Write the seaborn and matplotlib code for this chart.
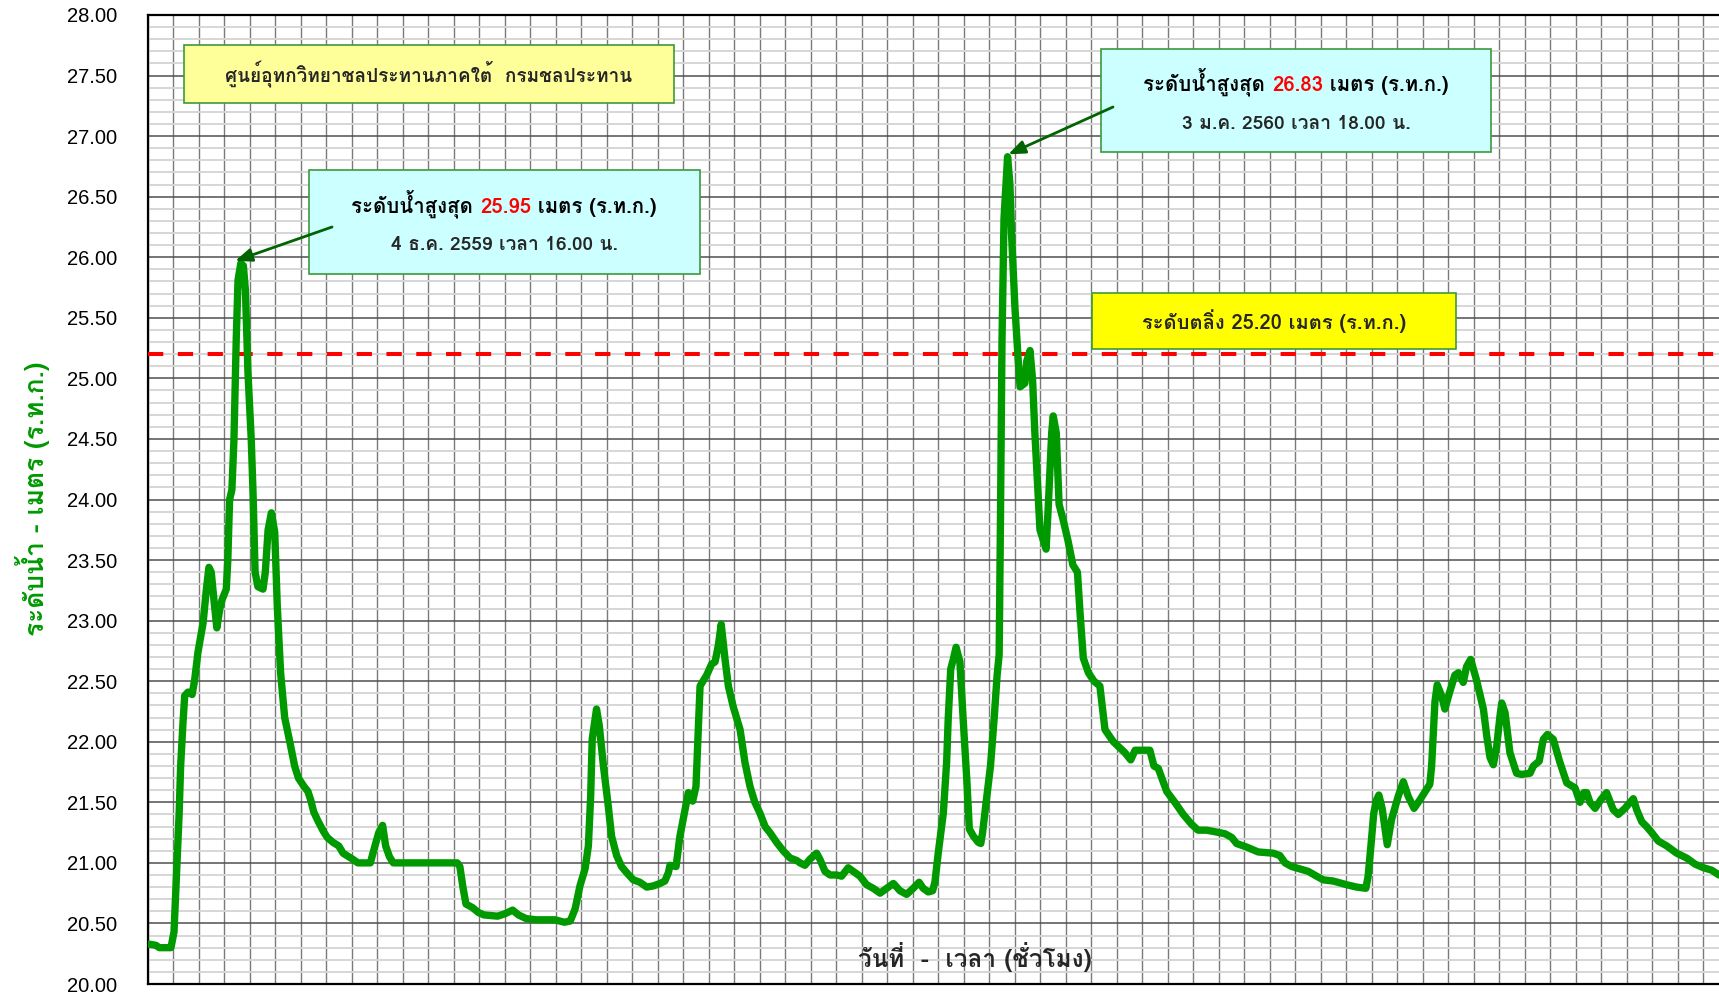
import numpy as np
import pandas as pd
import matplotlib
matplotlib.use("Agg")
import matplotlib.pyplot as plt
from matplotlib import font_manager, ft2font
from matplotlib.ticker import MultipleLocator, FormatStrFormatter, NullFormatter
from matplotlib.offsetbox import TextArea, HPacker, AnnotationBbox
from matplotlib.patches import Rectangle
import seaborn as sns

# days counted from 1 Dec 2559 00:00, water level in metres (MSL)
days = [0.00, 0.30, 0.45, 0.90, 1.02, 1.13, 1.22, 1.28, 1.37, 1.44, 1.57, 1.73, 1.83, 1.96,
        2.16, 2.29, 2.39, 2.48, 2.61, 2.70, 2.81, 2.90, 3.07, 3.13, 3.20, 3.29, 3.37, 3.46,
        3.53, 3.64, 3.74, 3.82, 3.92, 4.05, 4.12, 4.20, 4.31, 4.51, 4.60, 4.71, 4.84, 4.97,
        5.07, 5.20, 5.36, 5.57, 5.75, 5.90, 6.12, 6.27, 6.38, 6.50, 6.68, 6.88, 7.03, 7.25,
        7.48, 7.65, 7.88, 8.03, 8.23, 8.72, 8.90, 9.05, 9.20, 9.32, 9.47, 9.62, 12.13, 12.23,
        12.35, 12.47, 12.73, 12.96, 13.18, 13.71, 14.00, 14.30, 14.53, 14.83, 15.21, 15.96,
        16.33, 16.56, 16.75, 16.94, 17.14, 17.27, 17.36, 17.42, 17.59, 17.70, 17.86, 18.05,
        18.18, 18.38, 18.57, 18.77, 19.03, 19.29, 19.56, 19.82, 20.08, 20.27, 20.41, 20.47,
        20.71, 20.86, 21.06, 21.19, 21.36, 21.49, 21.65, 21.91, 22.10, 22.24, 22.37, 22.48,
        22.63, 22.76, 22.95, 23.22, 23.41, 23.61, 23.80, 24.00, 24.20, 24.39, 24.65, 24.91,
        25.18, 25.44, 25.57, 25.76, 25.96, 26.22, 26.35, 26.55, 26.75, 27.01, 27.20, 27.46,
        27.66, 27.92, 28.18, 28.44, 28.71, 28.97, 29.23, 29.49, 29.75, 30.01, 30.24, 30.40,
        30.60, 30.77, 30.86, 30.99, 31.19, 31.32, 31.38, 31.48, 31.58, 31.69, 31.84, 31.97,
        32.11, 32.21, 32.37, 32.56, 32.66, 32.73, 32.88, 33.04, 33.19, 33.30, 33.38, 33.43,
        33.49, 33.57, 33.71, 33.80, 33.87, 34.00, 34.13, 34.20, 34.39, 34.46, 34.59, 34.69,
        34.78, 34.89, 34.98, 35.22, 35.31, 35.44, 35.50, 35.62, 35.73, 35.88, 36.08, 36.27,
        36.45, 36.55, 36.68, 36.88, 37.10, 37.33, 37.53, 37.86, 38.31, 38.54, 38.71, 39.29,
        39.45, 39.62, 39.95, 40.27, 40.60, 40.92, 41.18, 41.51, 41.78, 42.24, 42.50, 42.69,
        43.09, 43.54, 44.13, 44.39, 44.59, 44.85, 45.18, 45.50, 45.83, 46.09, 46.48, 47.00,
        47.40, 47.76, 47.85, 47.98, 48.07, 48.18, 48.27, 48.40, 48.60, 48.77, 49.03, 49.23,
        49.42, 49.65, 49.88, 50.27, 50.34, 50.47, 50.56, 50.73, 50.86, 51.02, 51.25, 51.39,
        51.58, 51.71, 51.87, 52.10, 52.37, 52.50, 52.63, 52.76, 52.89, 53.02, 53.09, 53.22,
        53.41, 53.67, 53.87, 54.20, 54.33, 54.56, 54.72, 54.88, 55.11, 55.37, 55.64, 55.96,
        56.16, 56.31, 56.42, 56.55, 56.75, 56.97, 57.20, 57.46, 57.66, 57.92, 58.25, 58.38,
        58.58, 58.77, 58.97, 59.23, 59.56, 59.95, 60.34, 60.67, 61.00, 61.32, 61.61]
level = [20.33, 20.32, 20.30, 20.30, 20.43, 20.97, 21.40, 21.80, 22.15, 22.38, 22.41, 22.39,
         22.51, 22.74, 22.98, 23.26, 23.44, 23.40, 23.12, 22.94, 23.09, 23.17, 23.26, 23.50,
         24.00, 24.08, 24.49, 25.32, 25.81, 25.95, 25.93, 25.73, 25.05, 24.49, 24.05, 23.40,
         23.28, 23.26, 23.40, 23.75, 23.89, 23.73, 23.12, 22.57, 22.20, 21.99, 21.80, 21.70,
         21.63, 21.59, 21.52, 21.42, 21.34, 21.26, 21.21, 21.17, 21.14, 21.08, 21.05, 21.03,
         21.00, 21.00, 21.14, 21.25, 21.31, 21.14, 21.05, 21.00, 21.00, 20.97, 20.80, 20.66,
         20.63, 20.59, 20.57, 20.56, 20.58, 20.61, 20.57, 20.54, 20.53, 20.53, 20.51, 20.52,
         20.62, 20.81, 20.95, 21.14, 21.55, 22.02, 22.27, 22.13, 21.80, 21.47, 21.22, 21.06,
         20.97, 20.92, 20.86, 20.84, 20.80, 20.81, 20.83, 20.85, 20.92, 20.98, 20.97, 21.22,
         21.44, 21.58, 21.51, 21.63, 22.46, 22.55, 22.64, 22.66, 22.80, 22.97, 22.68, 22.46,
         22.29, 22.10, 21.83, 21.63, 21.50, 21.41, 21.30, 21.25, 21.17, 21.10, 21.04, 21.02,
         21.00, 20.98, 21.03, 21.08, 21.03, 20.93, 20.90, 20.90, 20.89, 20.96, 20.93, 20.89,
         20.82, 20.79, 20.75, 20.79, 20.83, 20.77, 20.74, 20.79, 20.84, 20.79, 20.76, 20.77,
         20.84, 21.08, 21.41, 21.83, 22.18, 22.60, 22.68, 22.78, 22.66, 22.18, 21.69, 21.28,
         21.22, 21.17, 21.16, 21.25, 21.52, 21.80, 22.21, 22.55, 22.72, 23.81, 25.29, 26.32,
         26.83, 26.61, 26.17, 25.58, 25.14, 24.93, 24.96, 25.14, 25.23, 24.99, 24.55, 24.11,
         23.75, 23.59, 23.96, 24.55, 24.69, 24.55, 23.96, 23.84, 23.66, 23.46, 23.40, 23.07,
         22.69, 22.57, 22.50, 22.46, 22.10, 22.00, 21.91, 21.85, 21.93, 21.93, 21.80, 21.78,
         21.59, 21.50, 21.40, 21.32, 21.27, 21.27, 21.26, 21.24, 21.21, 21.16, 21.13, 21.09,
         21.08, 21.06, 21.00, 20.97, 20.95, 20.93, 20.89, 20.86, 20.85, 20.82, 20.80, 20.79,
         20.89, 21.19, 21.41, 21.52, 21.56, 21.45, 21.15, 21.36, 21.55, 21.67, 21.55, 21.45,
         21.52, 21.65, 21.80, 22.33, 22.47, 22.38, 22.27, 22.39, 22.55, 22.57, 22.49, 22.62,
         22.68, 22.51, 22.27, 22.05, 21.87, 21.81, 21.96, 22.21, 22.32, 22.24, 21.91, 21.74,
         21.73, 21.74, 21.80, 21.84, 22.02, 22.06, 22.02, 21.83, 21.66, 21.62, 21.50, 21.58,
         21.58, 21.50, 21.45, 21.52, 21.58, 21.44, 21.40, 21.45, 21.53, 21.44, 21.34, 21.30,
         21.25, 21.18, 21.14, 21.08, 21.04, 20.99, 20.96, 20.94, 20.90]

bank_level = 25.20

title_text = "ศูนย์อุทกวิทยาชลประทานภาคใต้  กรมชลประทาน"
peak1_lines = [["ระดับน้ำสูงสุด ", "25.95", " เมตร (ร.ท.ก.)"], "4 ธ.ค. 2559 เวลา 16.00 น."]
peak2_lines = [["ระดับน้ำสูงสุด ", "26.83", " เมตร (ร.ท.ก.)"], "3 ม.ค. 2560 เวลา 18.00 น."]
bank_text = "ระดับตลิ่ง 25.20 เมตร (ร.ท.ก.)"
xlabel = "วันที่  -  เวลา (ชั่วโมง)"
ylabel = "ระดับน้ำ - เมตร (ร.ท.ก.)"


def thai_fonts():
    found = []
    for f in font_manager.fontManager.ttflist:
        try:
            cmap = ft2font.FT2Font(f.fname).get_charmap()
        except Exception:
            continue
        if 0x0E14 in cmap and 0x0E49 in cmap and f.name not in found:
            found.append(f.name)
    return found


sns.set_style("white")
found = thai_fonts()
pick = [n for n in ["Loma", "Tahoma", "Noto Sans Thai"] if n in found] or found[:1]
thai = pick[:1] + ["Liberation Sans", "DejaVu Sans"]
plt.rcParams["font.family"] = ["Liberation Sans", "DejaVu Sans"]

W, H = 1719, 992
fig = plt.figure(figsize=(W / 100, H / 100), dpi=100)
ax = fig.add_axes([148 / W, 1 - 984 / H, 1 - 148 / W, (984 - 15) / H])

df = pd.DataFrame({"day": days, "level": level})
sns.lineplot(data=df, x="day", y="level", ax=ax, color="#009900", lw=5.3,
             estimator=None, sort=False, zorder=5)
ax.lines[-1].set_solid_joinstyle("round")
ax.axhline(bank_level, color="#ff0000", lw=2.9, dashes=(3.8, 3.6), zorder=4)

ax.set_xlim(0, 61.61)
ax.set_ylim(20, 28)
ax.yaxis.set_major_locator(MultipleLocator(0.5))
ax.yaxis.set_minor_locator(MultipleLocator(0.1))
ax.yaxis.set_major_formatter(FormatStrFormatter("%.2f"))
ax.xaxis.set_major_locator(MultipleLocator(1))
ax.xaxis.set_major_formatter(NullFormatter())
ax.set_axisbelow(True)
ax.grid(which="minor", axis="y", color="#d6d6d6", lw=1.4)
ax.grid(which="major", axis="y", color="#505050", lw=1.1)
ax.grid(which="major", axis="x", color="#7a7a7a", lw=1.0)
ax.tick_params(axis="y", which="major", direction="inout", length=13.7, width=1.5,
               labelsize=14.5, pad=15.5, colors="black")
ax.tick_params(axis="y", which="minor", direction="in", length=6.5, width=1.5)
ax.tick_params(axis="x", which="major", direction="inout", length=14, width=1.5)
for s in ["left", "top", "bottom"]:
    ax.spines[s].set_color("black")
    ax.spines[s].set_linewidth(1.6)
ax.spines["right"].set_visible(False)
ax.set_xlabel("")
ax.set_ylabel("")


def fx(px):
    return px / W


def fy(py):
    return 1 - py / H


def box(x0, y0, x1, y1, color):
    ax.add_patch(Rectangle((fx(x0), fy(y1)), fx(x1 - x0), (y1 - y0) / H,
                           transform=fig.transFigure, facecolor=color,
                           edgecolor="#3c9a3c", lw=1.2, zorder=6, clip_on=False))


def line_parts(parts, x, y, size):
    areas = [TextArea(t, textprops=dict(color=c, fontsize=size, fontweight="bold", family=thai))
             for t, c in zip(parts, ["black", "#ff0000", "black"])]
    pack = HPacker(children=areas, align="baseline", pad=0, sep=0)
    ab = AnnotationBbox(pack, (fx(x), fy(y)), xycoords="figure fraction",
                        frameon=False, box_alignment=(0.5, 0.5), zorder=8)
    ax.add_artist(ab)


def ftext(x, y, s, size, **kw):
    ax.text(fx(x), fy(y), s, transform=fig.transFigure, ha="center", va="center",
            fontsize=size, fontweight="bold", family=thai, zorder=8, clip_on=False, **kw)


box(184, 45, 674, 103, "#ffff99")
ftext(429, 74, title_text, 13.7)

box(309, 170, 700, 274, "#ccffff")
line_parts(peak1_lines[0], 504, 204, 14.7)
ftext(504, 245, peak1_lines[1], 13.8)

box(1101, 49, 1491, 152, "#ccffff")
line_parts(peak2_lines[0], 1296, 82, 14.7)
ftext(1296, 124, peak2_lines[1], 13.9)

box(1092, 293, 1456, 349, "#ffff00")
ftext(1274, 321, bank_text, 14.5)

arrow = dict(arrowstyle="-|>,head_length=1.0,head_width=0.4", color="#006400", lw=2,
             shrinkA=0, shrinkB=0)
ax.annotate("", xy=(3.42, 25.97), xycoords="data", xytext=(fx(332), fy(227)),
            textcoords="figure fraction", arrowprops=arrow, zorder=9)
ax.annotate("", xy=(33.74, 26.85), xycoords="data", xytext=(fx(1113), fy(107)),
            textcoords="figure fraction", arrowprops=arrow, zorder=9)

ftext(975, 957, xlabel, 17.5)
fig.text(fx(33), fy(499), ylabel, rotation=90, ha="center", va="center",
         fontsize=19, fontweight="bold", color="#009900", family=thai)

fig.savefig("out.png", dpi=100)
